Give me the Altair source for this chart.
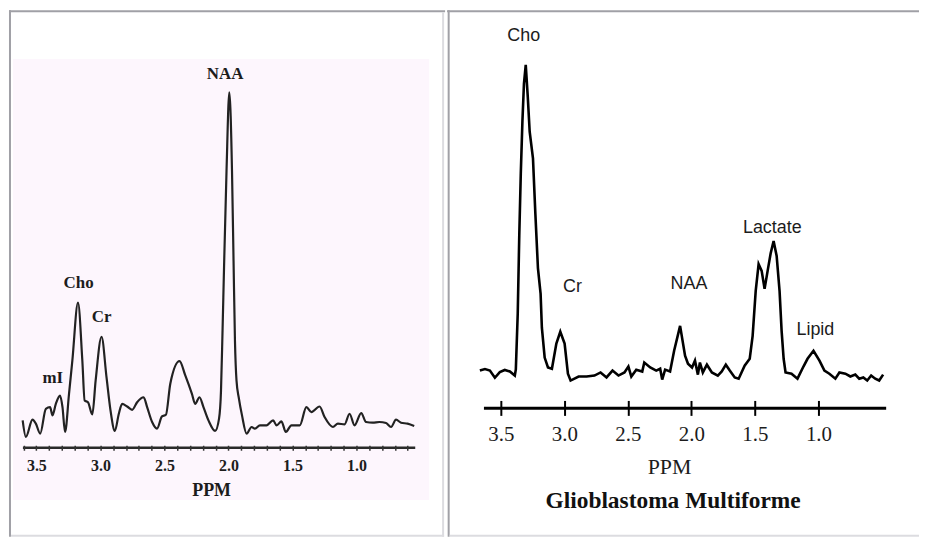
import altair as alt
import pandas as pd

# ---------------- data ----------------
# Left spectrum (normal brain): chemical shift (ppm) and relative intensity (NAA = 100)
left_ppm = [3.607, 3.582, 3.530, 3.504, 3.470, 3.426, 3.393, 3.374, 3.348, 3.315,
            3.296, 3.276, 3.245, 3.219, 3.175, 3.141, 3.123, 3.097, 3.063, 3.037,
            2.991, 2.952, 2.921, 2.887, 2.856, 2.830, 2.791, 2.752, 2.713, 2.662,
            2.635, 2.596, 2.558, 2.519, 2.488, 2.454, 2.382, 2.337, 2.285, 2.260,
            2.226, 2.195, 2.156, 2.104, 2.073, 2.058, 2.046, 2.034, 2.015, 1.993,
            1.972, 1.960, 1.949, 1.937, 1.918, 1.894, 1.858, 1.819, 1.793, 1.754,
            1.702, 1.651, 1.624, 1.586, 1.552, 1.508, 1.443, 1.391, 1.352, 1.288,
            1.249, 1.184, 1.145, 1.093, 1.054, 1.015, 0.963, 0.925, 0.873, 0.821,
            0.769, 0.730, 0.691, 0.652, 0.601, 0.549]
left_int = [0.9, -4.1, 1.1, -0.1, -3.1, 4.4, 4.9, 2.4, 5.9, 8.4,
            4.9, -2.6, 8.9, 19.0, 36.5, 19.0, 6.9, 6.4, 2.7, 13.0,
            26.2, 13.9, 3.9, -2.3, 2.9, 5.9, 5.1, 4.1, 6.4, 7.9,
            4.9, 0.4, -1.6, 2.1, 2.6, 12.0, 18.8, 14.5, 8.9, 5.9,
            7.9, 4.9, 0.9, -2.3, 1.5, 9.9, 28.0, 47.6, 76.2, 100.1,
            76.2, 49.1, 25.0, 13.0, 7.5, 2.4, -3.1, -1.1, -1.6, -0.6,
            -0.6, 0.9, -0.6, 0.6, -2.6, -0.6, -0.6, 4.9, 3.4, 5.1,
            1.9, -1.1, -0.1, -0.3, 2.9, -0.6, 3.1, 0.4, 0.2, 0.4,
            0.1, -1.1, 1.1, 0.2, -0.1, -0.8]

# Right spectrum (glioblastoma multiforme): ppm and relative intensity (Cho = 100)
right_ppm = [3.665, 3.625, 3.586, 3.547, 3.508, 3.469, 3.429, 3.390, 3.382, 3.367,
             3.355, 3.343, 3.330, 3.318, 3.304, 3.288, 3.273, 3.247, 3.228, 3.208,
             3.187, 3.177, 3.155, 3.129, 3.098, 3.063, 3.032, 2.998, 2.972, 2.951,
             2.888, 2.825, 2.763, 2.715, 2.668, 2.621, 2.574, 2.527, 2.496, 2.473,
             2.434, 2.387, 2.371, 2.324, 2.277, 2.246, 2.230, 2.207, 2.168, 2.136,
             2.089, 2.050, 2.027, 1.995, 1.972, 1.949, 1.933, 1.910, 1.878, 1.839,
             1.792, 1.761, 1.729, 1.698, 1.659, 1.628, 1.581, 1.541, 1.518, 1.494,
             1.471, 1.447, 1.424, 1.400, 1.376, 1.353, 1.329, 1.306, 1.290, 1.274,
             1.259, 1.212, 1.165, 1.118, 1.086, 1.039, 0.992, 0.953, 0.914, 0.867,
             0.835, 0.788, 0.749, 0.710, 0.679, 0.647, 0.616, 0.585, 0.553, 0.522,
             0.491]
right_int = [1.6, 2.1, 1.6, -0.7, 1.1, 1.8, 1.3, 0.0, 2.0, 20.0,
             45.0, 65.0, 82.0, 94.0, 100.0, 89.7, 78.5, 69.9, 51.9, 34.6,
             26.3, 15.4, 5.8, 2.6, 2.2, 10.3, 14.1, 10.3, 0.6, -1.6,
             -0.3, -0.3, 0.0, 1.0, -0.6, 1.6, 0.0, 1.0, 2.9, -0.3,
             1.9, 1.3, 4.2, 2.6, 1.6, 2.2, -1.3, 1.9, 1.3, 8.0,
             16.0, 6.4, 3.8, 2.6, 4.8, 0.3, 4.2, 1.0, 3.5, 1.0,
             0.0, 1.3, 3.5, 1.6, -0.6, -1.0, 3.2, 5.4, 12.8, 27.2,
             35.9, 33.7, 27.9, 33.7, 39.4, 43.3, 38.5, 27.2, 14.4, 5.4,
             1.0, 0.6, -1.0, 2.9, 5.4, 8.0, 4.8, 1.6, 0.6, -1.0,
             1.0, 0.6, -0.3, 0.3, -1.0, -0.6, -1.6, 0.0, -1.0, -1.6,
             0.3]

# Peak labels
left_labels = ["NAA", "Cho", "Cr", "mI"]
left_label_ppm = [2.026, 3.170, 2.991, 3.372]
left_label_int = [105.7, 42.5, 32.2, 13.6]

right_labels = ["Cho", "Cr", "NAA", "Lactate", "Lipid"]
right_label_ppm = [3.320, 2.936, 2.019, 1.363, 1.024]
right_label_int = [109.3, 28.5, 29.5, 47.4, 14.7]

# Axis ticks
tick_ppm = [3.5, 3.0, 2.5, 2.0, 1.5, 1.0]
left_minor_ppm = [3.6, 3.5, 3.4, 3.3, 3.2, 3.1, 3.0, 2.9, 2.8, 2.7, 2.6, 2.5, 2.4,
                  2.3, 2.2, 2.1, 2.0, 1.9, 1.8, 1.7, 1.6, 1.5, 1.4, 1.3, 1.2, 1.1,
                  1.0, 0.9, 0.8, 0.7, 0.6]

# Axis line extents (ppm) and level (intensity units)
left_axis_line = {"ppm": [3.605], "ppm2": [0.541], "intensity": [-7.4]}
right_axis_line = {"ppm": [3.633], "ppm2": [0.467], "intensity": [-10.5]}

title_text = "Glioblastoma Multiforme"

# ---------------- layout ----------------
LW, RW, H = 438, 474, 529
DARK = "#a0a0a6"
LIGHT = "#dcdce0"
INK = "#1c1c1c"

one = pd.DataFrame({"k": [0]})

left_df = pd.DataFrame({"ppm": left_ppm, "intensity": left_int})
right_df = pd.DataFrame({"ppm": right_ppm, "intensity": right_int})
left_lab_df = pd.DataFrame({"ppm": left_label_ppm, "intensity": left_label_int, "label": left_labels})
right_lab_df = pd.DataFrame({"ppm": right_label_ppm, "intensity": right_label_int, "label": right_labels})

lx_scale = alt.Scale(domain=[0.3079, 3.7138], reverse=True, nice=False, zero=False)
ly_scale = alt.Scale(domain=[-34.34, 125.0], nice=False, zero=False)
rx_scale = alt.Scale(domain=[0.2085, 3.9232], reverse=True, nice=False, zero=False)
ry_scale = alt.Scale(domain=[-51.92, 117.63], nice=False, zero=False)

half_expr = "abs(datum.value*2 - round(datum.value*2)) < 0.01 ? format(datum.value, '.1f') : ''"

left_axis = alt.Axis(
    values=left_minor_ppm, orient="bottom", offset=-92, domain=False, grid=False, zindex=2,
    tickSize=5, tickWidth=1.5, tickColor="#333333",
    labelExpr=half_expr, labelFont="Liberation Serif", labelFontWeight="bold",
    labelFontSize=16, labelColor=INK, labelPadding=7, labelFlush=False, labelOverlap=False,
    title="PPM", titleFont="Liberation Serif", titleFontWeight="bold", titleFontSize=18,
    titleColor=INK, titleX=203, titleY=45, titleAlign="center", titleBaseline="middle",
)

right_axis = alt.Axis(
    values=tick_ppm, orient="bottom", offset=-137, domain=False, grid=False, zindex=2,
    tickSize=15, tickWidth=2, tickColor="#000000",
    format=".1f", labelFont="Liberation Serif", labelFontWeight="normal",
    labelFontSize=21, labelColor=INK, labelPadding=8, labelFlush=False, labelOverlap=False,
    title="PPM", titleFont="Liberation Serif", titleFontWeight="normal", titleFontSize=22,
    titleColor=INK, titleX=223, titleY=66, titleAlign="center", titleBaseline="middle",
)

# ---------- left panel ----------
l_bg = alt.Chart(one).mark_rect(color="#fdf6fd").encode(
    x=alt.value(4), x2=alt.value(422), y=alt.value(49), y2=alt.value(492))

l_line = alt.Chart(left_df).mark_line(color="#222222", strokeWidth=2.2, interpolate="monotone").encode(
    x=alt.X("ppm:Q", scale=lx_scale, axis=left_axis),
    y=alt.Y("intensity:Q", scale=ly_scale, axis=None),
)

l_rule = alt.Chart(pd.DataFrame(left_axis_line)).mark_rule(color="#2a2a2a", strokeWidth=2.5).encode(
    x=alt.X("ppm:Q", scale=lx_scale, axis=left_axis), x2="ppm2:Q",
    y=alt.Y("intensity:Q", scale=ly_scale, axis=None),
)

l_text = alt.Chart(left_lab_df).mark_text(
    font="Liberation Serif", fontWeight="bold", fontSize=17, color=INK,
    align="center", baseline="middle").encode(
    x=alt.X("ppm:Q", scale=lx_scale, axis=left_axis),
    y=alt.Y("intensity:Q", scale=ly_scale, axis=None),
    text="label:N",
)

l_b1 = alt.Chart(one).mark_rule(color=DARK, strokeWidth=2).encode(
    x=alt.value(0), x2=alt.value(LW), y=alt.value(1))
l_b2 = alt.Chart(one).mark_rule(color=DARK, strokeWidth=2).encode(
    x=alt.value(1), y=alt.value(0), y2=alt.value(H))
l_b3 = alt.Chart(one).mark_rule(color=LIGHT, strokeWidth=2).encode(
    x=alt.value(436), y=alt.value(2), y2=alt.value(H))
l_b4 = alt.Chart(one).mark_rule(color=LIGHT, strokeWidth=2).encode(
    x=alt.value(2), x2=alt.value(437), y=alt.value(528))

left = alt.layer(l_bg, l_line, l_rule, l_text, l_b1, l_b2, l_b3, l_b4).properties(width=LW, height=H)

# ---------- right panel ----------
r_line = alt.Chart(right_df).mark_line(color="#000000", strokeWidth=2.6).encode(
    x=alt.X("ppm:Q", scale=rx_scale, axis=right_axis),
    y=alt.Y("intensity:Q", scale=ry_scale, axis=None),
)

r_rule = alt.Chart(pd.DataFrame(right_axis_line)).mark_rule(color="#000000", strokeWidth=3).encode(
    x=alt.X("ppm:Q", scale=rx_scale, axis=right_axis), x2="ppm2:Q",
    y=alt.Y("intensity:Q", scale=ry_scale, axis=None),
)

r_text = alt.Chart(right_lab_df).mark_text(
    font="Liberation Sans", fontSize=18, color=INK,
    align="center", baseline="middle").encode(
    x=alt.X("ppm:Q", scale=rx_scale, axis=right_axis),
    y=alt.Y("intensity:Q", scale=ry_scale, axis=None),
    text="label:N",
)

r_title = alt.Chart(one).mark_text(
    font="Liberation Serif", fontWeight="bold", fontSize=23.5, color="#111111",
    align="center", baseline="middle", text=title_text).encode(
    x=alt.value(227), y=alt.value(493))

r_b1 = alt.Chart(one).mark_rule(color=DARK, strokeWidth=2).encode(
    x=alt.value(0), x2=alt.value(RW), y=alt.value(1))
r_b2 = alt.Chart(one).mark_rule(color=DARK, strokeWidth=2).encode(
    x=alt.value(1.6), y=alt.value(0), y2=alt.value(H))
r_b4 = alt.Chart(one).mark_rule(color=LIGHT, strokeWidth=2).encode(
    x=alt.value(2.6), x2=alt.value(RW), y=alt.value(528))

right = alt.layer(r_line, r_rule, r_text, r_title, r_b1, r_b2, r_b4).properties(width=RW, height=H)

chart = alt.hconcat(left, right, spacing=0).properties(
    padding={"left": 0, "right": 0, "top": 0, "bottom": 0},
    background="white",
).configure_view(stroke=None)

chart.save("out.html", embed_options={"renderer": "svg", "actions": False})
